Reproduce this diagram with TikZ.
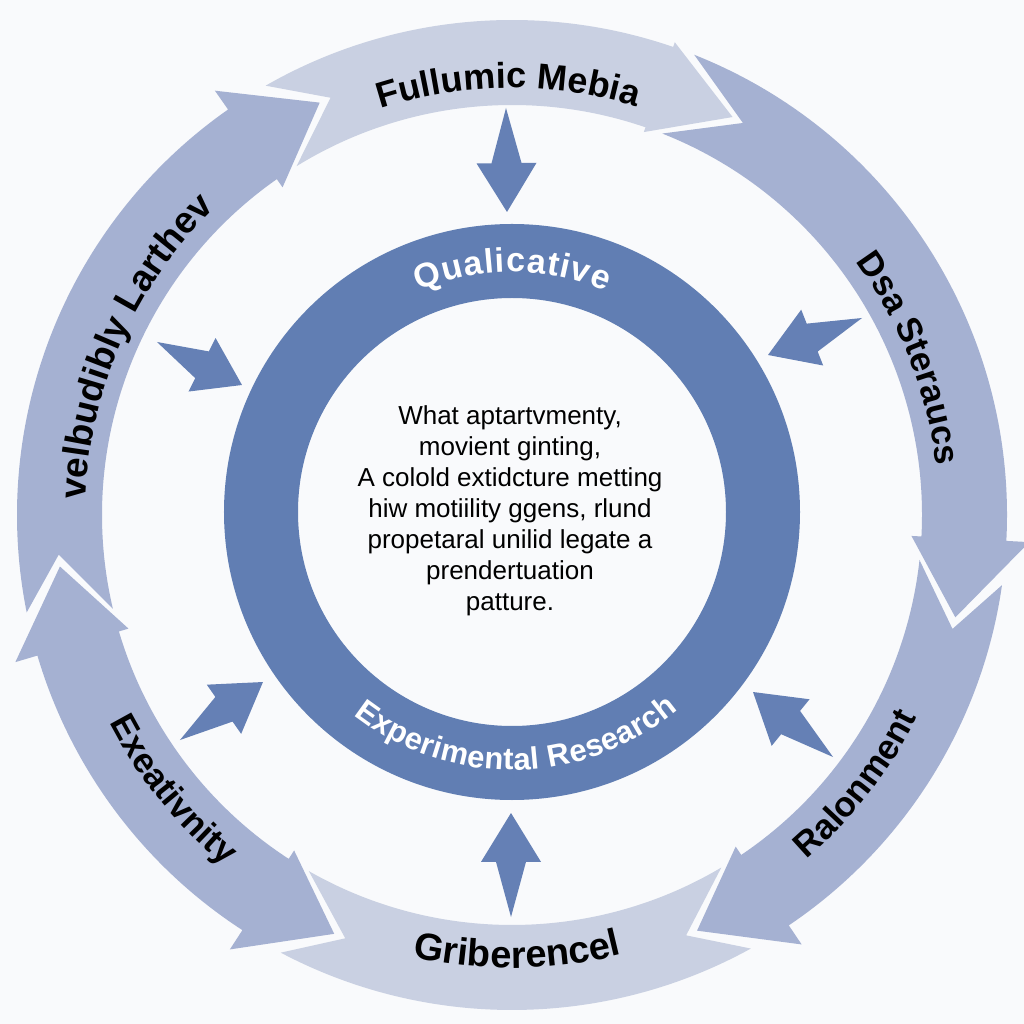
\documentclass[tikz,border=0pt]{standalone}
\usepackage{fontspec}
\setmainfont{Liberation Sans}
\usetikzlibrary{decorations.text}
\definecolor{bgc}{RGB}{249,250,252}
\definecolor{bandmid}{RGB}{165,177,210}
\definecolor{bandlight}{RGB}{201,208,226}
\definecolor{ringblue}{RGB}{97,126,179}
\definecolor{arrowblue}{RGB}{101,128,181}
\newcommand\smarrow[4]{%
  \pgfmathsetmacro\sadx{#3-(#1)}%
  \pgfmathsetmacro\sady{#4-(#2)}%
  \pgfmathsetmacro\saang{atan2(\sady,\sadx)}%
  \pgfmathsetmacro\salen{veclen(\sadx,\sady)}%
  \pgfmathsetmacro\sabase{0.53*\salen}%
  \fill[smallarrow, shift={(#1,#2)}, rotate=\saang] (0,0) -- (\sabase,15) -- (\sabase,30) -- (\salen,0) -- (\sabase,-30) -- (\sabase,-15) -- cycle;}
\begin{document}
\begin{tikzpicture}[x=1pt,y=1pt,
  midband/.style={fill=bandmid},
  lightband/.style={fill=bandlight},
  smallarrow/.style={fill=arrowblue},
  outerlabel/.style 2 args={decorate, decoration={text along path, text align=center, text color=black,
     text={|\bfseries\fontsize{#1}{#1}\selectfont|#2}}},
  ringlabel/.style 2 args={decorate, decoration={text along path, text align={fit to path}, text color=white,
     text={|\bfseries\fontsize{#1}{#1}\selectfont|#2}}}]
\useasboundingbox (-512,-512) rectangle (512,512);
\fill[bgc] (-512,-512) rectangle (512,512);
% outer ring of chevrons
\begin{scope}[shift={(0,-3)}]
\fill[lightband] (119.85:495) arc[start angle=119.85, end angle=71, radius=495] -- (71:500) -- (61:455) -- (71:405) -- (71:410) arc[start angle=71, end angle=121.7, radius=410] -- (113.5:455) -- cycle;
\fill[midband] (68.4:495) arc[start angle=68.4, end angle=-3, radius=495] -- (-3:518) -- (-13:455) -- (-3:400) -- (-3:410) arc[start angle=-3, end angle=68.5, radius=410] -- (59.5:455) -- cycle;
\fill[midband] (-8.15:495) arc[start angle=-8.15, end angle=-56, radius=495] -- (-56:518) -- (-66:455) -- (-56:400) -- (-56:410) arc[start angle=-56, end angle=-6.3, radius=410] -- (-14.5:455) -- cycle;
\fill[lightband] (-61.15:495) arc[start angle=-61.15, end angle=-117.85, radius=495] -- (-111.5:455) -- (-119.7:410) arc[start angle=-119.7, end angle=-59.3, radius=410] -- (-67.5:455) -- cycle;
\fill[midband] (-123:495) arc[start angle=-123, end angle=-163.5, radius=495] -- (-163.5:518) -- (-173.5:455) -- (-163.5:400) -- (-163.5:410) arc[start angle=-163.5, end angle=-123, radius=410] -- (-123:400) -- (-113:455) -- (-123:518) -- cycle;
\fill[midband] (-168.65:495) arc[start angle=-168.65, end angle=-235, radius=495] -- (-235:518) -- (-245:455) -- (-235:400) -- (-235:410) arc[start angle=-235, end angle=-166.8, radius=410] -- (-175:455) -- cycle;
% labels (clockwise, tops outward)
\path[outerlabel={36}{Fullumic Mebia}] (130.5:427) arc[start angle=130.5, end angle=50.5, radius=427];
\path[outerlabel={37}{velbudibly Larthev}] (201:427) arc[start angle=201, end angle=111, radius=427];
\path[outerlabel={35}{Dsa Steraucs}] (66.5:427) arc[start angle=66.5, end angle=-23.5, radius=427];
% labels (counter-clockwise, tops inward)
\path[outerlabel={35}{Ralonment}] (-83:453) arc[start angle=-83, end angle=7, radius=453];
\path[outerlabel={35}{Exeativnity}] (174:453) arc[start angle=174, end angle=264, radius=453];
\path[outerlabel={38}{Griberencel}] (225.7:453) arc[start angle=225.7, end angle=315.7, radius=453];
\end{scope}
% inner ring
\fill[ringblue, even odd rule] (0,0) circle[radius=288] (0,0) circle[radius=214];
\path[ringlabel={34}{Qualicative}] (113:240) arc[start angle=113, end angle=67, radius=240];
\path[ringlabel={31}{Experimental Research}] (232:258) arc[start angle=232, end angle=310, radius=258];
% small arrows
\smarrow{-6}{404}{-5}{300}
\smarrow{-1}{-405}{-1}{-301}
\smarrow{-355}{170}{-270}{127}
\smarrow{350}{194}{256}{157}
\smarrow{-332}{-228}{-249}{-170}
\smarrow{321}{-245}{241}{-180}
% centre text
\node[align=center, font=\fontsize{26}{31}\selectfont] (body) at (-2,1) {What aptartvmenty,\\ movient ginting,\\ A colold extidcture metting\\ hiw motiility ggens, rlund\\ propetaral unilid legate a\\ prendertuation\\ patture.};
\end{tikzpicture}
\end{document}
